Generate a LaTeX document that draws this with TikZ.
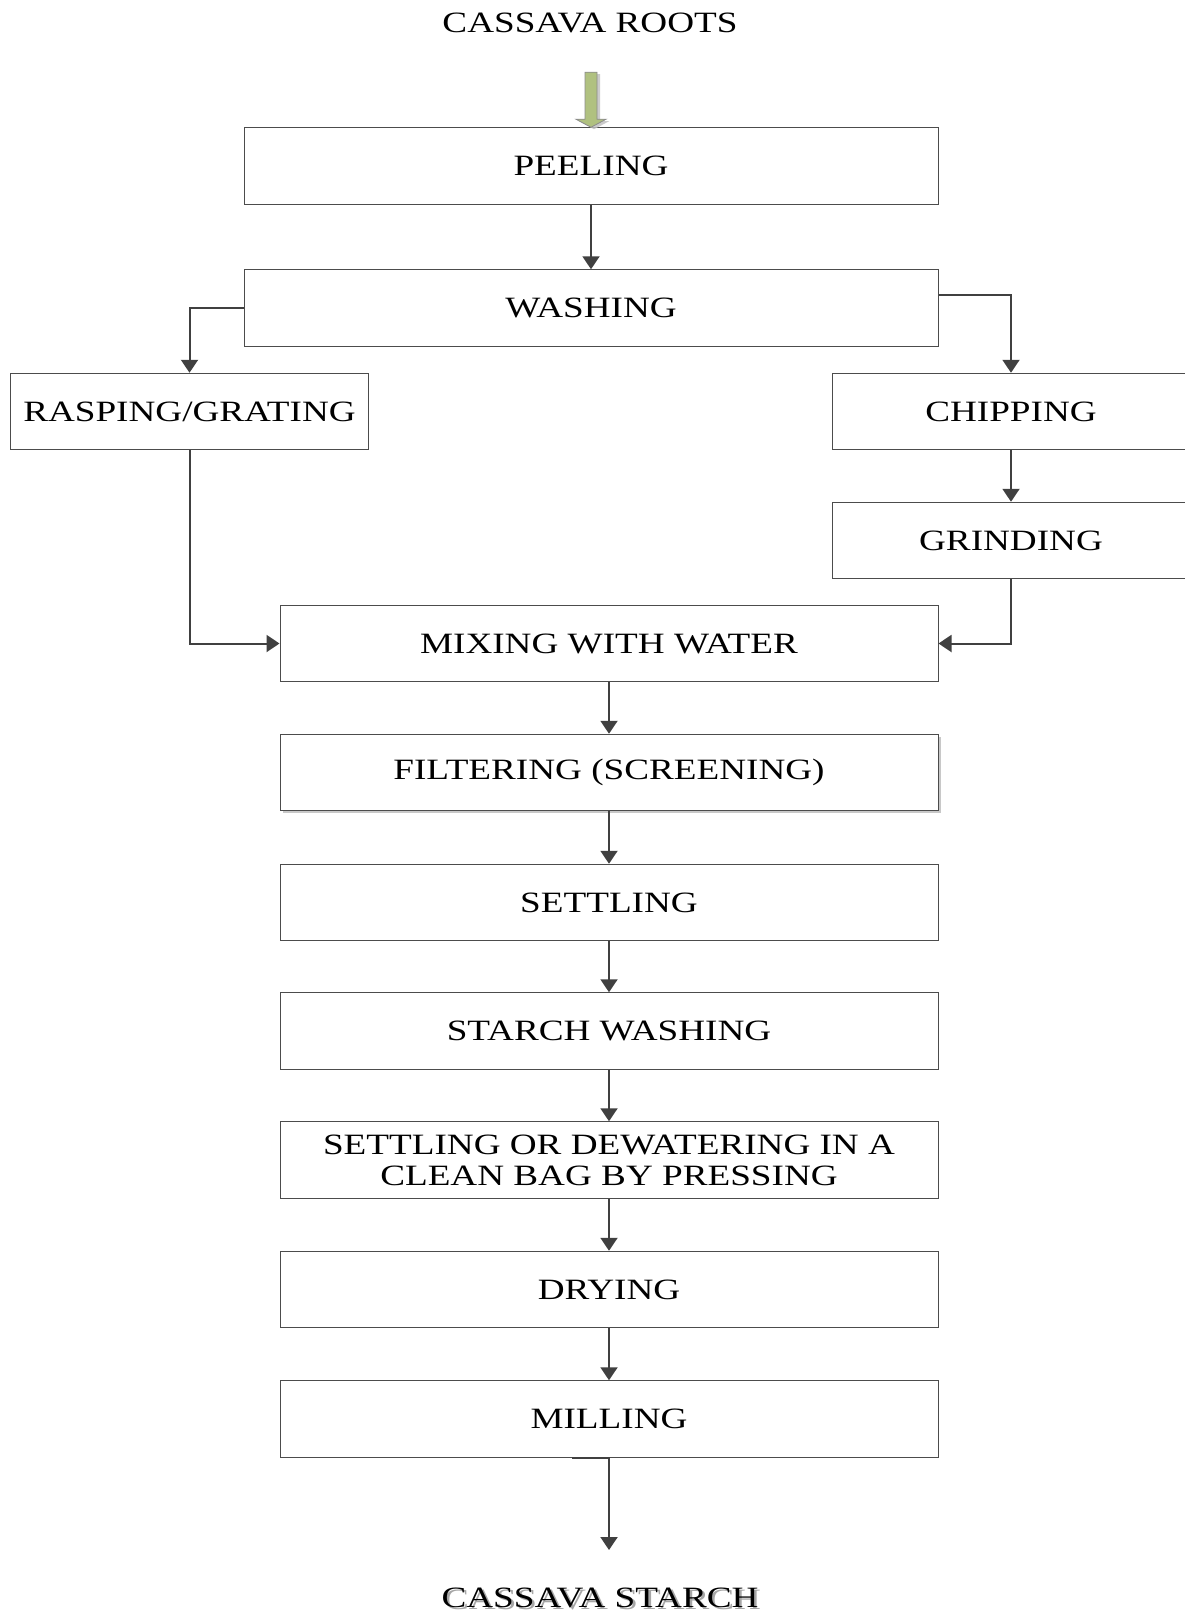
\documentclass[tikz,border=0pt]{standalone}
\usepackage{fontspec}
\setmainfont{Liberation Serif}[FakeStretch=1.26]
\usetikzlibrary{arrows.meta,shadows}

\definecolor{leaf}{RGB}{176,193,128}
\definecolor{ink}{RGB}{64,64,64}
% text with a soft grey copy offset below and to the right
\newcommand\shadowtxt[1]{\makebox[0pt][l]{\hspace{1.3pt}\raisebox{-1.3pt}{\color{black!35}#1}}#1}

\begin{document}
\begin{tikzpicture}[x=0.5pt,y=-0.5pt,
  txt/.style={font=\fontsize{14.75}{15.5}\selectfont},
  box/.style={txt, draw=black!70, line width=0.5pt, fill=white,
    minimum height=38.25pt, inner sep=0pt, align=center},
  wide/.style={box, minimum width=347pt},
  main/.style={box, minimum width=329pt},
  side/.style={box, minimum width=178.75pt},
  conn/.style={draw=ink, line width=1pt, -{Triangle[length=6.5pt,width=8.5pt]}}]

\useasboundingbox[fill=white] (0,0) rectangle (1184,1616);

% labels at the ends of the process
\node[txt] (roots) at (590,23) {CASSAVA ROOTS};
\node[txt] (starch) at (600,1599) {\shadowtxt{CASSAVA STARCH}};

% process steps
\node[wide] (peel)  at (591,166)   {PEELING};
\node[wide] (wash)  at (591,308)   {WASHING};
\node[side] (rasp)  at (189.5,411.5) {RASPING/GRATING};
\node[side] (chip)  at (1011,411.5) {CHIPPING};
\node[side] (grind) at (1011,540.5) {GRINDING};
\node[main] (mix)   at (609,643.5) {MIXING WITH WATER};
\node[main, drop shadow={shadow xshift=1.3pt, shadow yshift=-1.3pt, fill=black!30, opacity=0.7}]
            (filt)  at (609,772.5) {FILTERING (SCREENING)};
\node[main] (settle) at (609,902.5) {SETTLING};
\node[main] (swash) at (609,1031)  {STARCH WASHING};
\node[main] (dewat) at (609,1160)  {SETTLING OR DEWATERING IN A\\ CLEAN BAG BY PRESSING};
\node[main] (dry)   at (609,1289.5) {DRYING};
\node[main] (mill)  at (609,1419)  {MILLING};

% green block arrow feeding the roots into peeling
\begin{scope}[shift={(peel.north)}]
  \fill[black!25, opacity=0.8]
    (-3,-53) -- (9,-53) -- (9,-6) -- (18,-6) -- (3,2) -- (-12,-6) -- (-3,-6) -- cycle;
  \filldraw[fill=leaf, draw=black!45, line width=0.4pt]
    (-6,-55) -- (6,-55) -- (6,-8) -- (15,-8) -- (0,0) -- (-15,-8) -- (-6,-8) -- cycle;
\end{scope}

% connectors
\draw[conn] (peel) -- (wash);
\draw[conn] (wash.west) -| (rasp.north);
\draw[conn] ([yshift=6.5pt]wash.east) -| (chip.north);
\draw[conn] (chip) -- (grind);
\draw[conn] (rasp.south) |- (mix.west);
\draw[conn] (grind.south) |- (mix.east);
\draw[conn] (mix) -- (filt);
\draw[conn] (filt) -- (settle);
\draw[conn] (settle) -- (swash);
\draw[conn] (swash) -- (dewat);
\draw[conn] (dewat) -- (dry);
\draw[conn] (dry) -- (mill);
\coordinate (outlet) at (609,1550);
\draw[conn] ([xshift=-18.5pt]mill.south) -- (mill.south) -- (outlet);

\end{tikzpicture}
\end{document}
